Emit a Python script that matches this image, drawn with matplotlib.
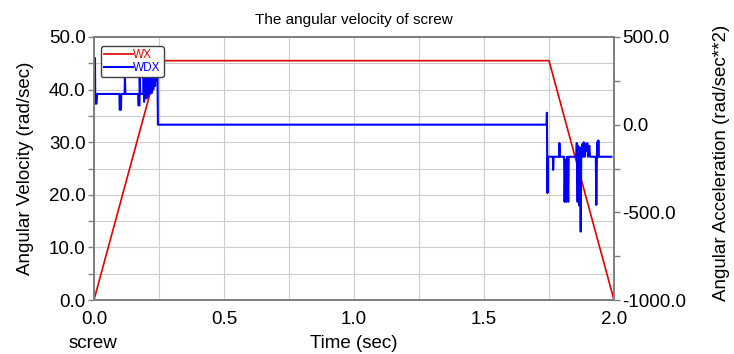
import matplotlib
matplotlib.use("Agg")
import matplotlib.pyplot as plt
from matplotlib.ticker import MultipleLocator, FormatStrFormatter

plt.rcParams["font.family"] = ["Liberation Sans", "DejaVu Sans"]

# angular velocity WX (rad/sec), left axis
wx_time = [0.0, 0.25, 1.75, 2.0]
wx_value = [0.0, 45.5, 45.5, 0.0]

# angular acceleration WDX (rad/sec**2), right axis
wdx_time = [0.000, 0.004, 0.005, 0.010, 0.012, 0.098, 0.099, 0.104, 0.105, 0.118,
            0.119, 0.121, 0.170, 0.171, 0.175, 0.176, 0.178, 0.190, 0.191, 0.193,
            0.200, 0.202, 0.206, 0.208, 0.212, 0.214, 0.220, 0.222, 0.226, 0.228,
            0.232, 0.235, 0.238, 0.242, 0.244, 0.246, 1.741,
            1.742, 1.744, 1.746, 1.765, 1.766, 1.768, 1.789, 1.790, 1.792,
            1.808, 1.810, 1.813, 1.816, 1.820, 1.824, 1.826, 1.855, 1.857, 1.860,
            1.862, 1.866, 1.869, 1.872, 1.874, 1.878, 1.881, 1.884, 1.887, 1.890,
            1.893, 1.897, 1.900, 1.905, 1.908, 1.930, 1.932, 1.935, 1.938, 1.940,
            1.942, 1.990]
wdx_value = [380, 380, 120, 120, 175, 175, 85, 85, 175, 175,
             270, 175, 175, 110, 110, 270, 175, 175, 350, 130,
             350, 150, 340, 160, 300, 175, 350, 180, 350, 200,
             360, 220, 350, 250, 350, 0, 0,
             68, -390, -183, -183, -258, -183, -183, -105, -183,
             -183, -440, -200, -440, -183, -440, -183, -183, -105, -440,
             -120, -460, -130, -610, -183, -110, -183, -100, -183, -110,
             -150, -105, -183, -120, -183, -183, -458, -100, -183, -90,
             -183, -183]

fig = plt.figure(figsize=(7.34, 3.54), dpi=100)
ax = fig.add_axes([0.128, 0.1525, 0.7085, 0.743])
ax2 = ax.twinx()

line1, = ax.plot(wx_time, wx_value, color="#e00000", lw=1.2, label="WX")
line2, = ax2.plot(wdx_time, wdx_value, color="#0000ff", lw=1.5, label="WDX")

ax.set_xlim(0, 2.0)
ax.set_ylim(0, 50)
ax2.set_ylim(-1000, 500)

ax.xaxis.set_major_locator(MultipleLocator(0.5))
ax.xaxis.set_minor_locator(MultipleLocator(0.25))
ax.yaxis.set_major_locator(MultipleLocator(10))
ax.yaxis.set_minor_locator(MultipleLocator(5))
ax2.yaxis.set_major_locator(MultipleLocator(500))
ax2.yaxis.set_minor_locator(MultipleLocator(250))
ax.xaxis.set_major_formatter(FormatStrFormatter("%.1f"))
ax.yaxis.set_major_formatter(FormatStrFormatter("%.1f"))
ax2.yaxis.set_major_formatter(FormatStrFormatter("%.1f"))

ax.grid(True, which="both", color="#cccccc", lw=0.8)
ax.set_axisbelow(True)

for a in (ax, ax2):
    for s in a.spines.values():
        s.set_color("#808080")
        s.set_linewidth(1.3)
    a.tick_params(which="both", colors="#808080", labelcolor="black", labelsize=13.5,
                  width=1.0)
    a.tick_params(which="major", length=4)
    a.tick_params(which="minor", length=4)
ax.tick_params(axis="x", which="both", length=0, pad=8)
ax.tick_params(axis="y", pad=2)
ax2.tick_params(axis="y", pad=2)

ax.set_title("The angular velocity of screw", fontsize=11, pad=9)
ax.set_xlabel("Time (sec)", fontsize=13.5, labelpad=5)
ax.set_ylabel("Angular Velocity (rad/sec)", fontsize=13.5, labelpad=11)
fig.text(721 / 734, 1 - 163 / 354, "Angular Acceleration (rad/sec**2)", fontsize=13.5,
         rotation=90, ha="center", va="center")
fig.text(93 / 734, 1 - 343 / 354, "screw", fontsize=13.5, ha="center", va="center")

leg = ax2.legend(handles=[line1, line2], loc="upper left", fontsize=8.5,
                 bbox_to_anchor=(0.013, 0.965), handlelength=2.5, labelspacing=0.1,
                 borderpad=0.25, handletextpad=0.0, borderaxespad=0,
                 framealpha=1, fancybox=True)
leg.get_frame().set_edgecolor("#404040")
for txt, ln in zip(leg.get_texts(), [line1, line2]):
    txt.set_color(ln.get_color())

fig.savefig("out.png", dpi=100)
